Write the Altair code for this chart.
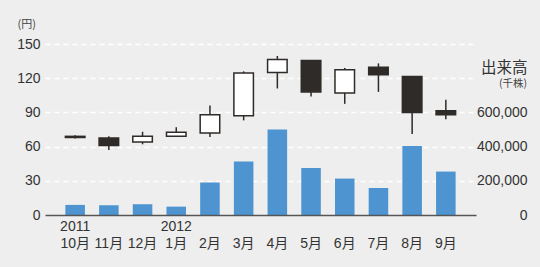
import altair as alt
import pandas as pd

months = ["10月", "11月", "12月", "1月", "2月", "3月", "4月", "5月", "6月", "7月", "8月", "9月"]
years = ["2011", "", "", "2012", "", "", "", "", "", "", "", ""]
open_ = [69, 67.5, 64, 69, 72, 87, 125, 135.5, 107, 129.5, 121.5, 91.5]
close = [68, 61, 69, 72.5, 88, 124.5, 136.5, 108, 127.5, 123, 90, 88]
high = [70, 69, 73, 77, 96, 126, 139.5, 136, 129, 133, 122, 101]
low = [67, 57, 62, 68.5, 68.5, 83, 111, 104, 97.5, 108, 71, 84]
volume = [59000, 57000, 63000, 49000, 190000, 313000, 500000, 275000, 213000, 158000, 404000, 254000]
price_ticks = [0, 30, 60, 90, 120, 150]
volume_ticks = [0, 200000, 400000, 600000]

df = pd.DataFrame({
    "month": months, "year": years, "open": open_, "close": close,
    "high": high, "low": low, "volume": volume,
})
df["up"] = df["close"] >= df["open"]

W, H = 431, 171
DARK = "#2f2b28"
TXT = "#333333"
NUM_FONT = "Liberation Sans, Noto Sans CJK JP"
JP_FONT = "Noto Sans CJK JP"

# build label expression: two-line labels (year / month)
expr = "['', datum.value]"
for m, y in reversed(list(zip(months, years))):
    if y:
        expr = f"datum.value == '{m}' ? ['{y}', '{m}'] : " + expr

xscale = alt.Scale(domain=months, paddingInner=0.42, paddingOuter=0.605)
xenc = alt.X("month:N", sort=months, scale=xscale, title=None,
             axis=alt.Axis(labelAngle=0, labelExpr=expr, labelFont=NUM_FONT,
                           labelFontSize=14, labelColor=TXT, labelLineHeight=17,
                           labelBaseline="top", labelPadding=4, ticks=False,
                           domainColor="#555555", domainWidth=1.5, grid=False,
                           labelOverlap=False, zindex=1))

bars = alt.Chart(df).mark_bar(color="#4d94d0").encode(
    x=xenc,
    y=alt.Y("volume:Q", scale=alt.Scale(domain=[0, 1000000], nice=False),
            axis=alt.Axis(orient="right", values=volume_ticks, tickCount=len(volume_ticks),
                          labelExpr="format(datum.value, ',.0f')",
                          grid=False, domain=False, ticks=False, tickSize=0,
                          labelOverlap=False, labelFlush=False,
                          labelAlign="right", labelPadding=51, labelFont=NUM_FONT,
                          labelFontSize=14, labelColor=TXT,
                          title="出来高", titleAngle=0, titleAlign="right",
                          titleBaseline="alphabetic", titleX=51, titleY=28,
                          titleFont=JP_FONT, titleFontSize=15.5,
                          titleFontWeight="normal", titleColor=TXT)),
)

yprice = alt.Y("low:Q", scale=alt.Scale(domain=[0, 150], nice=False),
               axis=alt.Axis(orient="left", values=price_ticks, tickCount=len(price_ticks),
                             grid=True,
                             gridColor="white", gridDash=[5, 4], gridWidth=1.5,
                             domain=False, ticks=False, labelPadding=5,
                             labelOverlap=False, labelFlush=False,
                             labelFont=NUM_FONT, labelFontSize=14, labelColor=TXT,
                             title="(円)", titleAngle=0, titleAlign="left",
                             titleBaseline="alphabetic", titleX=-28, titleY=-17,
                             titleFont=JP_FONT, titleFontSize=11,
                             titleFontWeight="normal", titleColor="#444444"))

wicks = alt.Chart(df).mark_rule(color=DARK, strokeWidth=1.5).encode(
    x=alt.X("month:N", sort=months, scale=xscale),
    y=yprice,
    y2="high:Q",
)

bodies = alt.Chart(df).mark_bar(stroke=DARK, strokeWidth=1.5).encode(
    x=alt.X("month:N", sort=months, scale=xscale),
    y=alt.Y("open:Q"),
    y2="close:Q",
    fill=alt.condition("datum.up", alt.value("white"), alt.value(DARK)),
)

note = alt.Chart(df.head(1)).mark_text(text="(千株)", font=JP_FONT, fontSize=10.5,
                                       fontWeight="normal", color="#444444",
                                       align="right", baseline="alphabetic").encode(
    x=alt.value(W + 51), y=alt.value(43)
)

price = alt.layer(wicks, bodies, note)

chart = alt.layer(bars, price).resolve_scale(y="independent").properties(
    width=W, height=H,
    autosize=alt.AutoSizeParams(type="none"),
    padding={"left": 45, "top": 44, "right": 64, "bottom": 52},
    background="#eeeeee",
).configure_view(stroke=None)

chart.save("out.html", embed_options={"renderer": "svg", "actions": False})
